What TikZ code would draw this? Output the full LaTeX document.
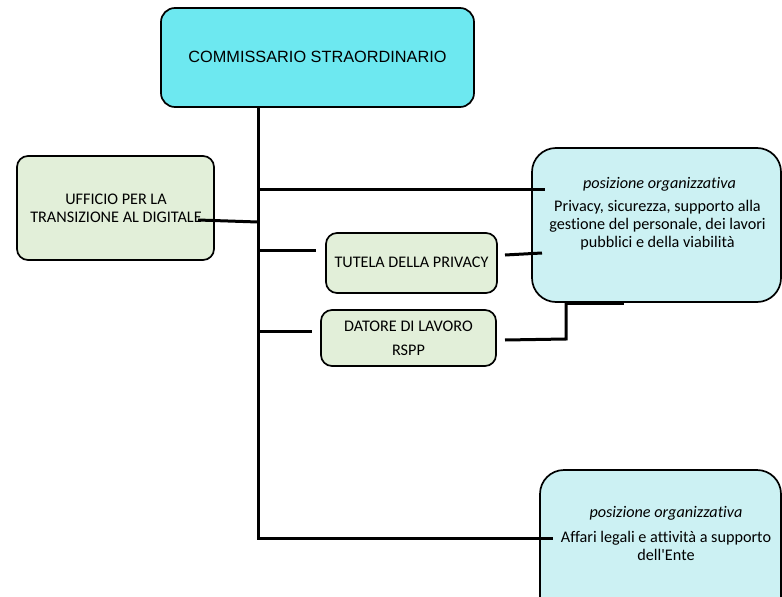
\documentclass[tikz,border=0pt]{standalone}
\usepackage{fontspec}
\setmainfont[Ligatures=NoCommon]{Carlito}
\newfontfamily\arialf{Liberation Sans}
\definecolor{topcyan}{HTML}{6DE8F0}
\definecolor{pocyan}{HTML}{CCF1F3}
\definecolor{lgreen}{HTML}{E2EFD9}
\begin{document}
\begin{tikzpicture}[x=1pt,y=-1pt,
  box/.style={draw=black,line width=1.7pt,rounded corners=14pt,inner sep=0pt},
  topbox/.style={box,fill=topcyan},
  gbox/.style={box,fill=lgreen,rounded corners=11pt},
  pobox/.style={box,fill=pocyan,rounded corners=24pt},
  txt/.style={inner sep=0pt,align=center,font=\fontsize{16.2}{18}\selectfont},
  conn/.style={draw=black,line width=3pt}]
\useasboundingbox (0,0) rectangle (782,597);
\begin{scope}
\clip (0,0) rectangle (782,597);
% boxes
\node[topbox,minimum width=313pt,minimum height=99pt] (top) at (317.5,57.5) {};
\node[font=\arialf\fontsize{16.3}{19}\selectfont,inner sep=0pt] (toptxt) at (317.5,57) {COMMISSARIO STRAORDINARIO};
\node[gbox,minimum width=197pt,minimum height=104pt] (uff) at (115.5,208) {};
\node[txt] (ufftxt) at (116,208) {UFFICIO PER LA\\TRANSIZIONE AL DIGITALE};
\node[pobox,minimum width=249pt,minimum height=154pt] (po1) at (656.5,225) {};
\node[txt] (po1a) at (659.5,184) {\itshape posizione organizzativa};
\node[txt] (po1b) at (657.5,225) {Privacy, sicurezza, supporto alla\\gestione del personale, dei lavori\\pubblici e della viabilità};
\node[gbox,minimum width=171pt,minimum height=60pt] (tut) at (411.5,263) {};
\node[txt] (tuttxt) at (411.5,262) {TUTELA DELLA PRIVACY};
\node[gbox,minimum width=175pt,minimum height=56pt] (dat) at (408.5,338) {};
\node[txt] (dat1) at (408.5,326) {DATORE DI LAVORO};
\node[txt] (dat2) at (408.5,350) {RSPP};
\node[pobox,minimum width=241pt,minimum height=150pt] (po2) at (660.5,545) {};
\node[txt] (po2a) at (666,513) {\itshape posizione organizzativa};
\node[txt] (po2b) at (666,546) {Affari legali e attività a supporto\\dell\textquotesingle Ente};
% coordinates
\coordinate (tb) at (258,107);
\coordinate (tend) at (258,538);
\coordinate (p2in) at (553,538);
\coordinate (j1) at (258,189);
\coordinate (p1in) at (545,189);
\coordinate (ua) at (198,220);
\coordinate (ub) at (258,222);
\coordinate (j2) at (258,250);
\coordinate (t1) at (316,250);
\coordinate (ta) at (505,255);
\coordinate (tb2) at (542,253);
\coordinate (j3) at (258,331);
\coordinate (d1) at (312,331);
\coordinate (da) at (505,340);
\coordinate (db) at (566,339);
\coordinate (dc) at (566,303);
\coordinate (dd) at (624,303);
% connectors
\draw[conn] (tb) -- (tend) -- (p2in);
\draw[conn] (j1) -- (p1in);
\draw[conn] (ua) -- (ub);
\draw[conn] (j2) -- (t1);
\draw[conn] (ta) -- (tb2);
\draw[conn] (j3) -- (d1);
\draw[conn] (da) -- (db) -- (dc);
\draw[conn] (dc) -- (dd);
\end{scope}
\end{tikzpicture}
\end{document}
